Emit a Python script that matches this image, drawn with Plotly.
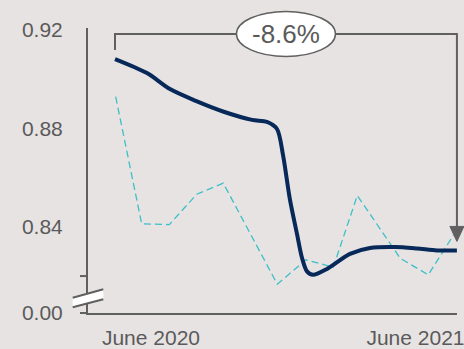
import plotly.graph_objects as go

# x positions in months relative to June 2020
navy_x = [-1.633, -0.181, 0.862, 2.087, 3.267, 4.583, 5.263, 5.717, 5.989, 6.307,
          6.624, 6.851, 7.078, 7.350, 7.985, 9.029, 9.936, 11.07, 12.07, 12.98, 13.88]
navy_y = [0.9081, 0.9024, 0.8959, 0.8909, 0.8868, 0.8834, 0.8826, 0.8797, 0.8692, 0.8509,
          0.8371, 0.8274, 0.8219, 0.8205, 0.8229, 0.8290, 0.8314, 0.8318, 0.8312, 0.8304, 0.8304]

teal_x = [-1.602, -0.422, 0.830, 2.074, 3.280, 5.730, 7.033, 8.272, 9.360, 11.31, 12.58, 13.87]
teal_y = [0.8928, 0.8412, 0.8409, 0.8532, 0.8577, 0.8167, 0.8266, 0.8236, 0.8527, 0.8272,
          0.8205, 0.8387]

x_tick_vals = [0, 12]
x_tick_text = ["June 2020", "June 2021"]
y_tick_vals = [0.805, 0.84, 0.88, 0.92]
y_tick_text = ["0.00", "0.84", "0.88", "0.92"]

X_RANGE = [-2.858, 13.884]
Y_RANGE = [0.805, 0.9207]

W, H = 464, 349
M = dict(l=88, r=7, t=28, b=36)
PW = W - M["l"] - M["r"]
PH = H - M["t"] - M["b"]

BG = "#e8e3e3"
AXIS = "#606060"
TEXT = "#5a5a5a"
NAVY = "#06295a"
TEAL = "#3cbfc7"


def xp(x):
    return (x - X_RANGE[0]) / (X_RANGE[1] - X_RANGE[0])


def yp(y):
    return (y - Y_RANGE[0]) / (Y_RANGE[1] - Y_RANGE[0])


def dx(px):
    return px / PW


def dy(px):
    return px / PH


fig = go.Figure()
fig.add_trace(go.Scatter(x=teal_x, y=teal_y, mode="lines",
                         line=dict(color=TEAL, width=1.3, dash="7px,4px"),
                         hoverinfo="skip"))
fig.add_trace(go.Scatter(x=navy_x, y=navy_y, mode="lines",
                         line=dict(color=NAVY, width=4, shape="spline", smoothing=0.8),
                         hoverinfo="skip"))

change = (navy_y[-1] / navy_y[0] - 1) * 100

shapes = []
# bracket from first to last value of the solid series
x0, x1 = xp(navy_x[0]), xp(navy_x[-1])
y_top = yp(0.9183)
y_left = yp(navy_y[0]) + dy(9)
y_tip = yp(navy_y[-1]) + dy(9)
head = dy(15)
shapes.append(dict(type="path", xref="paper", yref="paper",
                   path=f"M{x0},{y_left} L{x0},{y_top} L{x1},{y_top} L{x1},{y_tip + head}",
                   line=dict(color=AXIS, width=2)))
shapes.append(dict(type="path", xref="paper", yref="paper",
                   path=f"M{x1 - dx(7)},{y_tip + head} L{x1 + dx(7)},{y_tip + head} L{x1},{y_tip} Z",
                   fillcolor=AXIS, line=dict(color=AXIS, width=1)))
xm = (x0 + x1) / 2
shapes.append(dict(type="circle", xref="paper", yref="paper",
                   x0=xm - dx(49.5), x1=xm + dx(49.5),
                   y0=y_top - dy(22.5), y1=y_top + dy(22.5),
                   fillcolor="white", line=dict(color=AXIS, width=1.5)))

# ticks at 0.82 and at the broken base
for yv in (0.82, 0.805):
    shapes.append(dict(type="line", xref="paper", yref="paper",
                       x0=-dx(8), x1=0, y0=yp(yv), y1=yp(yv),
                       line=dict(color=AXIS, width=2)))

# axis break mark
bx0, bx1 = -dx(15.3), dx(15.3)
ya, yb = dy(15.3), dy(23.7)
yc, yd = dy(5.7), dy(13.7)
shapes.append(dict(type="path", xref="paper", yref="paper",
                   path=f"M{bx0},{ya} L{bx1},{yb} L{bx1},{yd} L{bx0},{yc} Z",
                   fillcolor="white", line=dict(width=0)))
shapes.append(dict(type="line", xref="paper", yref="paper", x0=bx0, y0=ya, x1=bx1, y1=yb,
                   line=dict(color=AXIS, width=2)))
shapes.append(dict(type="line", xref="paper", yref="paper", x0=bx0, y0=yc, x1=bx1, y1=yd,
                   line=dict(color=AXIS, width=2)))

fig.update_layout(
    width=W, height=H, margin=M,
    paper_bgcolor=BG, plot_bgcolor=BG,
    showlegend=False,
    font=dict(family="Liberation Sans, Arial, sans-serif", color=TEXT, size=21),
    shapes=shapes,
    annotations=[dict(xref="paper", yref="paper", x=xm, y=y_top,
                      text=f"{change:.1f}%", showarrow=False,
                      font=dict(size=26, color=TEXT), xanchor="center", yanchor="middle")],
)
fig.update_xaxes(range=X_RANGE, tickvals=x_tick_vals, ticktext=x_tick_text, automargin=False,
                 showgrid=False, zeroline=False, showline=True, linecolor=AXIS, linewidth=2,
                 ticks="", ticklabelstandoff=5, ticklabeloverflow="allow")
fig.update_yaxes(range=Y_RANGE, tickvals=y_tick_vals, ticktext=y_tick_text, automargin=False,
                 showgrid=False, zeroline=False, showline=True, linecolor=AXIS, linewidth=2,
                 ticks="", ticklabelstandoff=19, ticklabeloverflow="allow")

fig.write_html("out.html")
